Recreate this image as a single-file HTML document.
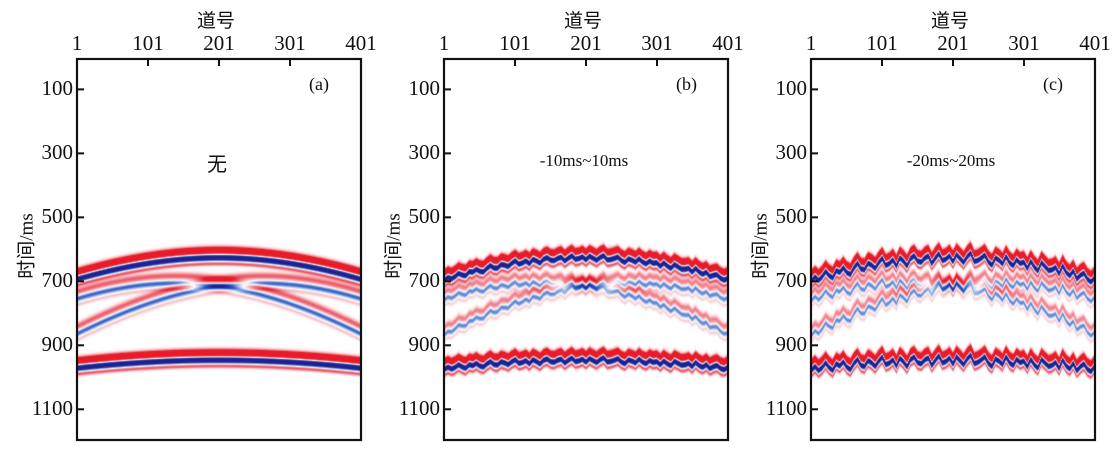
<!DOCTYPE html>
<html><head><meta charset="utf-8">
<style>
html,body{margin:0;padding:0;background:#fff;width:1118px;height:450px;overflow:hidden}
#root{position:relative;width:1118px;height:450px}
.t{position:absolute;font-family:"Liberation Serif","Noto Serif CJK SC",serif;color:#111;white-space:nowrap}
canvas{position:absolute}
</style></head><body>
<div id="root"></div>
<script>
// ---- data ----
const panelIds = ['a','b','c'];
const panelNotes = ['无','-10ms~10ms','-20ms~20ms'];
const staticMaxMs = [0,10,20];
const xTickLabels = [1,101,201,301,401];
const yTickLabels = [100,300,500,700,900,1100];
// events: apex trace, apex time (ms), moveout (ms/trace), amplitude
const evApex = [201,201,262,140];
const evT0 = [622,942,702,702];
const evK = [1.48,1.09,1.9,1.9];
const evAmp = [1.0,1.0,0.36,0.36];
// normalized static shifts per 5 traces (81 values)
const statics = [0.3,-0.2,0.5,0.1,-0.6,0.2,0.7,-0.3,0.1,-0.5,0.4,0.8,-0.1,-0.7,0.3,0.5,-0.4,0.0,0.6,-0.2,
-0.8,0.4,0.2,-0.3,0.7,-0.5,0.1,0.9,-0.2,-0.6,0.3,0.5,-0.1,-0.4,0.8,0.0,-0.7,0.4,0.2,-0.3,
0.6,-0.5,0.1,0.7,-0.2,-0.8,0.5,0.3,-0.1,-0.6,0.4,0.9,-0.3,0.0,0.5,-0.7,0.2,0.6,-0.4,0.1,
-0.2,0.7,-0.5,0.3,0.8,-0.6,-0.1,0.4,0.2,-0.3,0.6,-0.8,0.1,0.5,-0.4,0.7,0.0,-0.5,0.3,0.6,-0.2];

// ---- layout ----
const panelLeft = [77,444,811], pTop = 59, pW = 284, pH = 381;
const tMin = 5, tMax = 1196;
const root = document.getElementById('root');
function xs(tr,L){return L + (tr-1)/400*pW;}
function ys(t){return pTop + (t-tMin)/(tMax-tMin)*pH;}
function txt(s,x,y,size,name,extra){
  const d=document.createElement('div');d.className='t';d.textContent=s;
  d.style.left=x+'px';d.style.top=y+'px';d.style.fontSize=size+'px';
  if(extra)Object.assign(d.style,extra);
  
  
  root.appendChild(d);return d;
}
function wavelet(tau){
  return 1.0*Math.exp(-Math.pow((tau+19)/11,2)) - 1.1*Math.exp(-Math.pow((tau-4)/8,2)) + 0.38*Math.exp(-Math.pow((tau-23)/6,2));
}
function lerp(a,b,f){return [a[0]+(b[0]-a[0])*f,a[1]+(b[1]-a[1])*f,a[2]+(b[2]-a[2])*f];}
function cmap(v){
  const W=[255,255,255];
  if(v>=0){
    const P=[244,168,176],R=[232,28,40];
    if(v<0.2)return lerp(W,P,v/0.2);
    if(v<0.5)return lerp(P,R,(v-0.2)/0.3);
    return R;
  } else {
    v=-v;
    const LB=[150,180,228],MB=[50,90,200],NB=[32,34,140];
    if(v<0.2)return lerp(W,LB,v/0.2);
    if(v<0.4)return lerp(LB,MB,(v-0.2)/0.2);
    if(v<0.65)return lerp(MB,NB,(v-0.4)/0.25);
    return NB;
  }
}
function staticAt(tr){
  const i=(tr-1)/5, i0=Math.floor(i), f=i-i0;
  const a=statics[Math.min(i0,80)], b=statics[Math.min(i0+1,80)];
  return a+(b-a)*f;
}
panelIds.forEach((id,p)=>{
  const L=panelLeft[p];
  const cv=document.createElement('canvas');
  cv.width=pW;cv.height=pH;cv.style.left=L+'px';cv.style.top=pTop+'px';
  
  
  root.appendChild(cv);
  const ctx=cv.getContext('2d');const img=ctx.createImageData(pW,pH);
  const midScale = p===0?1:0.8;
  for(let px=0;px<pW;px++){
    const tr=1+px/(pW-1)*400;
    const sh=staticMaxMs[p]*staticAt(tr);
    const evT=evApex.map((a,e)=>Math.sqrt(evT0[e]*evT0[e]+Math.pow((tr-a)*evK[e],2))+sh);
    for(let py=0;py<pH;py++){
      const t=tMin+(py+0.5)/pH*(tMax-tMin);
      let v=0;
      for(let e=0;e<evT.length;e++){const tau=t-evT[e];if(Math.abs(tau)<60)v+=evAmp[e]*(e>=2?midScale:1)*wavelet(tau);}
      const c=cmap(Math.max(-1,Math.min(1,v)));
      const o=(py*pW+px)*4;img.data[o]=c[0];img.data[o+1]=c[1];img.data[o+2]=c[2];img.data[o+3]=255;
    }
  }
  ctx.putImageData(img,0,0);
  const svgNS='http://www.w3.org/2000/svg';
  const svg=document.createElementNS(svgNS,'svg');
  svg.setAttribute('width',pW+4);svg.setAttribute('height',pH+4);
  svg.style.position='absolute';svg.style.left=(L-2)+'px';svg.style.top=(pTop-2)+'px';
  
  
  let s='<rect x="2" y="2" width="'+pW+'" height="'+pH+'" fill="none" stroke="#111" stroke-width="2.2"/>';
  xTickLabels.forEach(v=>{const x=xs(v,L)-L+2;s+='<line x1="'+x+'" y1="2" x2="'+x+'" y2="9" stroke="#111" stroke-width="2"/>';});
  yTickLabels.forEach(v=>{const y=ys(v)-pTop+2;s+='<line x1="2" y1="'+y+'" x2="9" y2="'+y+'" stroke="#111" stroke-width="2"/>';});
  svg.innerHTML=s;root.appendChild(svg);
  txt('道号',L+pW/2-22,6,19,'x-axis-title-'+id,{fontFamily:'"Noto Sans CJK SC",sans-serif'});
  xTickLabels.forEach(v=>{const d=txt(String(v),xs(v,L),31,21,'x-tick-'+id+'-'+v);d.style.transform='translateX(-50%)';});
  yTickLabels.forEach(v=>{const d=txt(String(v),L-4,ys(v)-13,21,'y-tick-'+id+'-'+v);d.style.transform='translateX(-100%)';});
  const yt=txt('时间/ms',L-52,246,19,'y-axis-title-'+id,{fontFamily:'"Liberation Serif","Noto Sans CJK SC",serif'});
  yt.style.transform='translate(-50%,-50%) rotate(-90deg)';
  txt('('+id+')',L+232,74,18,'panel-label-'+id);
  const n=txt(panelNotes[p],L+140,p===0?148:151,p===0?20:17,'panel-note-'+id,p===0?{fontFamily:'"Noto Sans CJK SC",sans-serif'}:{});
  n.style.transform='translateX(-50%)';
});
</script>
</body></html>
